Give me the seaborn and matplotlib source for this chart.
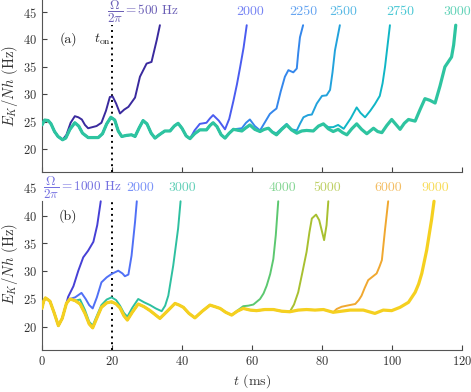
import matplotlib
matplotlib.use("Agg")
import pandas as pd
import matplotlib.pyplot as plt
import seaborn as sns

# ---- panel (a): common curve (3000 Hz) and the branches that leave it ----
t_base_a = [0, 0.8, 1.8, 2.6, 3.6, 4.6, 5.9, 6.8, 8.0, 9.4, 10.5, 11.6, 13.2, 16.1, 17.3,
            18.5, 19.7, 20.8, 21.8, 22.8, 24.2, 25.6, 26.6, 27.8, 28.9, 30.0, 31.2, 32.3,
            33.5, 35.1, 36.6, 37.8, 38.9, 40.0, 41.2, 42.3, 43.6, 45.1, 47.0, 48.0, 48.9,
            50.0, 51.2, 52.3, 53.5, 54.7, 57.1, 58.3, 59.4, 60.8, 62.3, 63.5, 64.7, 65.8,
            67.0, 68.5, 69.9, 71.3, 72.8, 74.2, 75.6, 77.5, 79.0, 80.4, 81.8, 83.2, 84.6,
            85.9, 87.1, 88.5, 89.9, 91.3, 92.8, 94.7, 95.9, 97.1, 98.5, 99.9, 101.1, 102.3,
            103.5, 104.7, 106.6, 108.0, 109.4, 110.8, 112.3, 113.7, 115.1, 117.0, 117.6, 118.2]
E_base_a = [24.4, 25.3, 25.2, 24.6, 23.2, 22.3, 21.7, 22.0, 23.6, 24.8, 24.2, 22.9, 22.1, 22.1, 22.8,
            24.6, 25.8, 25.3, 23.3, 22.3, 22.5, 22.6, 22.3, 23.9, 25.2, 24.6, 22.9, 22.0,
            22.6, 23.3, 23.3, 24.2, 24.7, 23.8, 22.4, 21.9, 22.8, 23.5, 23.5, 24.3, 24.8,
            24.1, 22.6, 22.0, 22.9, 23.6, 23.3, 23.9, 24.4, 23.6, 23.2, 23.6, 23.8, 23.1,
            22.6, 23.6, 24.4, 23.5, 22.9, 23.3, 23.4, 23.3, 24.2, 24.6, 23.7, 23.2, 23.6,
            23.0, 22.6, 23.7, 24.6, 23.6, 22.8, 23.8, 23.2, 23.0, 24.3, 25.4, 24.5, 23.6,
            24.7, 25.4, 25.1, 27.2, 29.2, 28.9, 28.4, 31.5, 35.0, 36.8, 39.0, 42.6]

freqs_a = ["500", "2000", "2250", "2500", "2750"]
split_a = [5.9, 42.3, 54.7, 65.8, 80.4]
t_tail_a = [
    [7.0, 8.2, 9.4, 10.4, 11.4, 12.3, 13.2, 14.4, 15.6, 17.0, 18.3, 19.4, 20.2, 21.2, 22.3,
     23.5, 24.7, 26.6, 28.0, 29.9, 31.3, 32.8, 33.7],
    [43.6, 45.1, 47.0, 48.0, 48.9, 50.5, 52.3, 53.5, 54.7, 55.7, 56.6, 57.6, 58.5],
    [57.1, 58.3, 59.4, 60.8, 62.3, 63.7, 65.1, 66.0, 67.0, 68.2, 69.4, 70.4, 71.8, 72.8,
     73.2, 73.7, 74.6],
    [67.0, 68.5, 69.9, 71.3, 72.8, 73.7, 74.7, 76.0, 77.1, 78.5, 80.0, 81.3, 82.3, 83.0,
     83.7, 85.1],
    [81.8, 83.2, 84.6, 86.2, 88.2, 89.9, 91.0, 92.3, 93.8, 95.1, 96.5, 97.3, 98.0, 99.4],
]
E_tail_a = [
    [22.6, 24.8, 26.0, 25.8, 25.4, 24.4, 23.8, 24.0, 24.2, 24.8, 27.0, 29.5, 29.6, 28.3, 26.5,
     27.2, 27.7, 29.4, 33.2, 35.6, 35.9, 39.9, 42.6],
    [23.4, 24.6, 24.8, 25.6, 26.2, 25.2, 23.6, 25.5, 28.8, 31.8, 34.9, 38.5, 42.6],
    [23.8, 24.8, 25.4, 24.2, 23.4, 24.9, 26.4, 26.9, 27.4, 30.5, 33.2, 34.4, 34.0, 34.7,
     37.5, 40.4, 42.6],
    [22.9, 23.8, 24.6, 23.6, 23.4, 24.6, 25.8, 26.2, 26.3, 28.3, 29.7, 29.8, 30.8, 34.0,
     38.0, 42.6],
    [24.0, 24.0, 24.4, 23.7, 25.6, 27.6, 26.6, 25.8, 27.0, 28.2, 29.7, 32.0, 35.0, 42.6],
]
colors_a = ["#3a2a9e", "#4a5cf0", "#3487ec", "#22a2dc", "#10b6c6"]
color_3000a = "#2ec4a0"
label_t_a = [59.4, 74.6, 86.0, 102.3, 118.6]

# ---- panel (b): common curve (9000 Hz) and the branches that leave it ----
t_base_b = [0, 0.5, 1.0, 2.3, 3.5, 4.7, 5.8, 7.0, 8.0, 9.5, 10.9, 12.3, 13.5, 14.5, 15.7,
            17.0, 18.5, 19.9, 21.2, 22.3, 23.4, 24.4, 25.8, 27.5, 29.2, 30.9, 32.3, 33.7,
            35.8, 38.0, 39.2, 40.4, 42.0, 43.7, 45.8, 48.0, 49.5, 50.9, 52.5, 54.2, 55.8,
            57.5, 59.5, 61.3, 63.7, 66.1, 68.5, 70.8, 73.2, 75.6, 78.0, 80.4, 83.2, 85.6,
            88.0, 91.8, 95.1, 97.5, 99.9, 102.3, 104.7, 106.6, 107.6, 108.5, 109.9, 111.3, 112.0]
E_base_b = [23.3, 24.6, 25.2, 24.6, 22.5, 20.2, 21.5, 24.2, 25.0, 24.7, 24.1, 22.4, 20.5, 19.8, 21.6,
            23.5, 24.3, 24.5, 24.1, 23.4, 22.0, 21.2, 22.6, 24.1, 23.6, 22.9, 22.2, 21.5,
            22.8, 24.2, 23.9, 23.5, 22.4, 21.6, 22.8, 23.9, 23.6, 23.3, 22.6, 22.1, 22.8,
            23.3, 23.0, 22.9, 23.1, 23.1, 22.8, 22.7, 23.0, 23.1, 23.0, 23.1, 22.6, 22.8,
            23.0, 23.0, 22.4, 23.0, 22.9, 23.5, 24.4, 26.2, 27.7, 29.6, 33.8, 39.3, 42.6]

freqs_b = ["1000", "2000", "3000", "4000", "5000", "6000"]
split_b = [5.8, 8.0, 9.5, 54.2, 70.8, 83.2]
t_tail_b = [
    [7.5, 9.0, 10.4, 11.8, 13.2, 14.7, 15.8, 16.8],
    [9.5, 11.3, 12.5, 13.5, 14.5, 15.7, 17.0, 18.5, 19.9, 21.8, 23.0, 23.7, 24.7, 25.6, 26.6, 27.1],
    [10.9, 12.3, 13.5, 14.5, 15.7, 17.0, 18.5, 19.9, 21.2, 22.3, 23.4, 24.4, 25.8, 27.5,
     29.2, 30.9, 32.5, 34.2, 35.2, 36.1, 37.5, 38.9, 39.6],
    [55.8, 57.5, 59.0, 60.4, 62.3, 63.3, 64.2, 65.2, 66.1, 66.8, 67.5],
    [72.0, 73.2, 74.4, 75.6, 76.4, 77.1, 78.3, 79.2, 79.9, 80.6, 81.3, 81.8],
    [84.2, 85.6, 87.1, 89.5, 90.5, 91.3, 92.2, 93.2, 95.6, 96.4, 97.1, 98.0, 98.9],
]
E_tail_b = [
    [25.4, 27.3, 30.1, 32.5, 33.7, 35.3, 38.3, 42.6],
    [25.3, 26.1, 25.0, 23.9, 23.3, 25.3, 28.0, 28.9, 29.5, 30.1, 29.6, 29.1, 29.4, 32.8, 38.9, 42.6],
    [24.9, 23.0, 20.9, 20.2, 22.0, 23.9, 24.9, 25.3, 24.8, 23.8, 22.5, 21.8, 23.4, 25.0,
     24.4, 23.9, 23.3, 22.8, 23.8, 25.6, 31.0, 37.7, 42.6],
    [22.9, 23.7, 23.8, 24.0, 25.0, 26.0, 27.4, 29.5, 32.2, 36.5, 42.6],
    [24.0, 26.2, 29.8, 33.5, 37.0, 39.5, 40.2, 39.2, 37.4, 35.6, 38.3, 42.6],
    [23.2, 23.6, 23.8, 24.1, 24.8, 25.6, 27.0, 28.4, 29.6, 30.8, 32.0, 37.5, 42.6],
]
colors_b = ["#4640d6", "#5070f6", "#2ec0a0", "#5cc870", "#a8c030", "#f0a830"]
color_9000b = "#f5d020"
label_t_b = [28.0, 40.0, 68.6, 81.4, 98.9, 112.3]

yticks = [20, 25, 30, 35, 40, 45]
xticks = [0, 20, 40, 60, 80, 100, 120]

sns.set_style("ticks")
plt.rcParams["font.family"] = "serif"
plt.rcParams["font.serif"] = ["cmr10", "DejaVu Serif"]
plt.rcParams["mathtext.fontset"] = "cm"
plt.rcParams["axes.formatter.use_mathtext"] = True


def branch(t_base, E_base, t_split, t_tail, E_tail):
    keep = [i for i, v in enumerate(t_base) if v <= t_split]
    t = [t_base[i] for i in keep] + t_tail
    E = [E_base[i] for i in keep] + E_tail
    return pd.DataFrame({"t": t, "E": E})


def style_axis(ax, ytop, spine_top, dot_top, show_xlabels):
    ax.set_xlim(0, 120)
    ax.set_ylim(15.8, ytop)
    ax.set_xticks(xticks)
    ax.set_yticks(yticks)
    ax.tick_params(direction="in", length=3.5, width=0.8, colors="#444",
                   labelsize=9, labelcolor="#333")
    for s in ["top", "right"]:
        ax.spines[s].set_visible(False)
    for s in ["left", "bottom"]:
        ax.spines[s].set_color("#555")
        ax.spines[s].set_linewidth(0.8)
    ax.spines["left"].set_bounds(15.8, spine_top)
    if not show_xlabels:
        ax.set_xticklabels([])
    ax.set_ylabel(r"$E_K/Nh$ (Hz)", fontsize=10.5, color="#333", labelpad=2)
    ax.set_xlabel("")
    ax.axvline(20, ymax=(dot_top - 15.8) / (ytop - 15.8), color="black",
               ls=(0, (1, 2)), lw=1.4, zorder=1)


fig = plt.figure(figsize=(4.71, 3.92), dpi=100)
ax_a = fig.add_axes([0.089, 0.561, 0.892, 0.439])
ax_b = fig.add_axes([0.089, 0.107, 0.892, 0.439])

# panel (a)
for f, ts, tt, ee, c in zip(freqs_a, split_a, t_tail_a, E_tail_a, colors_a):
    df = branch(t_base_a, E_base_a, ts, tt, ee)
    sns.lineplot(data=df, x="t", y="E", ax=ax_a, color=c, lw=1.4, sort=False,
                 estimator=None, zorder=3)
sns.lineplot(x=t_base_a, y=E_base_a, ax=ax_a, color=color_3000a, lw=2.3, sort=False,
             estimator=None, zorder=4)
style_axis(ax_a, 47.2, 47.2, 42.6, False)
ax_a.text(18.6, 45, r"$\dfrac{\Omega}{2\pi}=500$ Hz", color=colors_a[0], alpha=0.75,
          fontsize=9.5, ha="left", va="center")
for f, lt, c in zip(freqs_a[1:] + ["3000"], label_t_a, colors_a[1:] + [color_3000a]):
    ax_a.text(lt, 45, f, color=c, alpha=0.75, fontsize=10, ha="center", va="center")
ax_a.text(7.5, 40, "(a)", fontsize=10, ha="center", va="center", color="#222")
ax_a.text(17.2, 40, r"$t_{\rm on}$", fontsize=10, ha="center", va="center", color="#222")

# panel (b)
for f, ts, tt, ee, c in zip(freqs_b, split_b, t_tail_b, E_tail_b, colors_b):
    df = branch(t_base_b, E_base_b, ts, tt, ee)
    sns.lineplot(data=df, x="t", y="E", ax=ax_b, color=c, lw=1.4, sort=False,
                 estimator=None, zorder=3)
sns.lineplot(x=t_base_b, y=E_base_b, ax=ax_b, color=color_9000b, lw=2.3, sort=False,
             estimator=None, zorder=4)
style_axis(ax_b, 46.8, 42.6, 42.6, True)
ax_b.yaxis.get_major_ticks()[-1].tick1line.set_visible(False)
ax_b.text(0.4, 45, r"$\dfrac{\Omega}{2\pi}=1000$ Hz", color=colors_b[0], alpha=0.75,
          fontsize=9.5, ha="left", va="center")
for f, lt, c in zip(freqs_b[1:] + ["9000"], label_t_b, colors_b[1:] + [color_9000b]):
    ax_b.text(lt, 45, f, color=c, alpha=0.75, fontsize=10, ha="center", va="center")
ax_b.text(7.5, 40, "(b)", fontsize=10, ha="center", va="center", color="#222")
ax_b.set_xlabel(r"$t$ (ms)", fontsize=10, color="#333", labelpad=3)

fig.savefig("out.png", dpi=100)
